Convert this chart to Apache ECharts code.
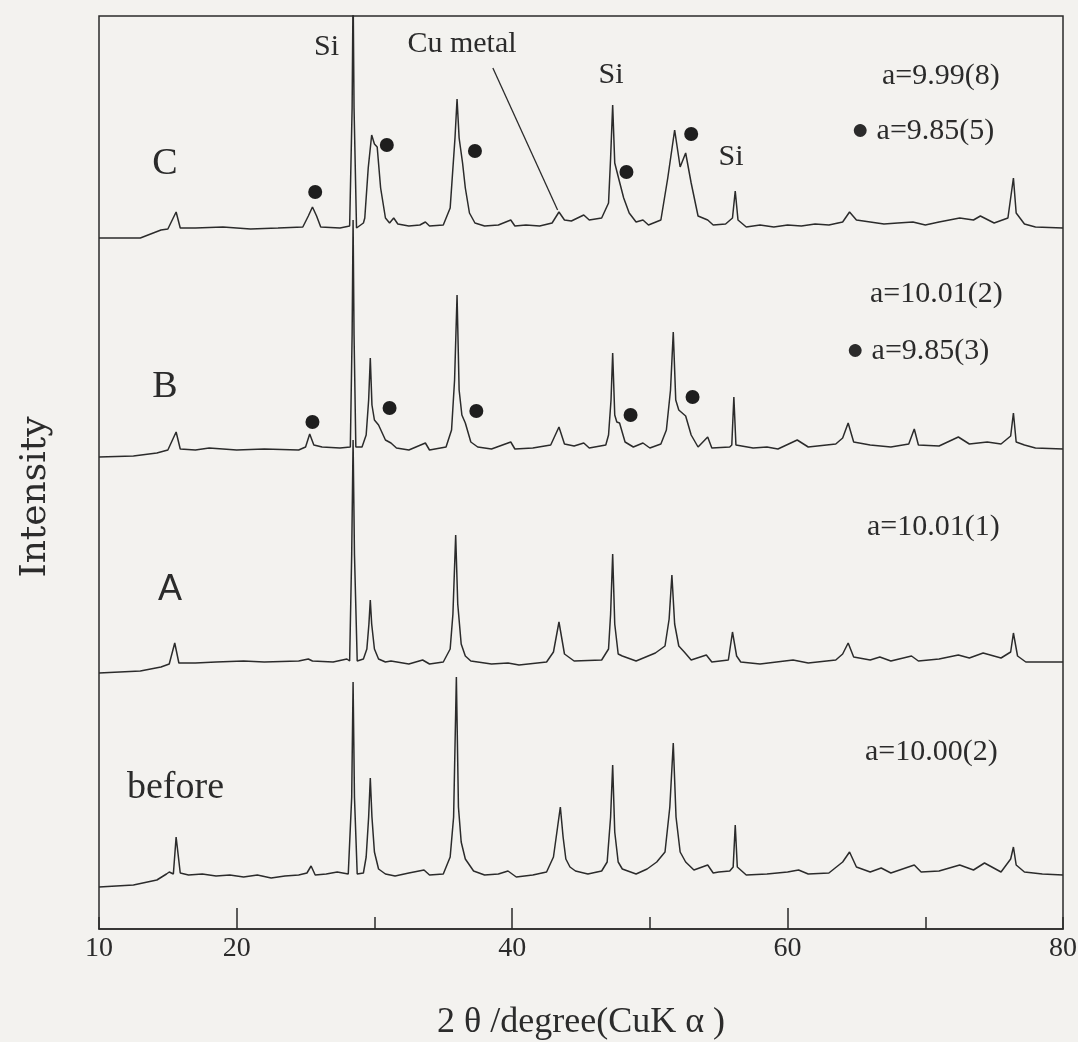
<!DOCTYPE html>
<html><head><meta charset="utf-8">
<script src="https://cdn.jsdelivr.net/npm/echarts@6/dist/echarts.min.js"></script>
<style>html,body{margin:0;padding:0;background:#f3f2ef}#c{width:1078px;height:1042px}</style>
</head><body><div id="c"></div><script>
// ---- data: [2theta (deg), intensity above own baseline (arb. units)] ----
const traceNames = ['before', 'A', 'B', 'C'];
const before = [[10,-10],[12.5,-8],[14.2,-3],[14.9,3],[15.1,5],[15.4,3],[15.6,40],[15.9,4],[16.5,2],[17.5,3],[18.5,1],[19.5,2],[20.5,0],[21.5,2],[22.5,-1],[23.5,1],[24.5,2],[25.1,4],[25.4,11],[25.7,2],[26.5,3],[27.3,5],[28.1,3],[28.35,80],[28.45,195],[28.55,80],[28.75,3],[29.2,4],[29.4,20],[29.58,60],[29.7,99],[29.82,60],[30.0,25],[30.3,8],[30.8,3],[31.5,1],[32.5,4],[33.6,7],[34.0,2],[35.0,3],[35.5,20],[35.75,60],[35.95,200],[36.1,70],[36.3,35],[36.6,18],[37.2,6],[38.0,2],[39.0,3],[39.7,6],[40.3,0],[41.5,2],[42.5,5],[43.0,20],[43.3,50],[43.5,70],[43.7,40],[43.9,18],[44.2,10],[44.6,6],[45.5,3],[46.5,6],[46.9,15],[47.15,60],[47.3,112],[47.45,45],[47.7,15],[48.0,8],[49.0,3],[49.8,8],[50.5,15],[51.1,25],[51.45,70],[51.7,134],[51.9,60],[52.2,25],[52.6,15],[53.2,7],[54.2,12],[54.6,4],[55.0,5],[55.8,6],[56.05,10],[56.2,52],[56.35,10],[57,2],[58.5,3],[60.0,5],[60.8,7],[61.5,3],[63.0,4],[64.0,15],[64.5,25],[65.0,10],[66.0,5],[66.8,9],[67.5,4],[69.2,12],[69.7,5],[71.0,6],[72.5,12],[73.5,7],[74.3,14],[75.5,5],[76.2,18],[76.4,30],[76.6,12],[77.2,5],[78.5,3],[80,2]];
const traceA = [[10,-9],[13,-7],[14.5,-3],[15.1,0],[15.5,21],[15.8,1],[17,1],[18.5,2],[20.5,3],[22,2],[24.5,3],[25.2,5],[25.5,3],[27.0,2],[28.0,5],[28.2,3],[28.35,110],[28.45,224],[28.55,110],[28.75,3],[29.2,5],[29.45,15],[29.6,40],[29.7,64],[29.8,40],[30.0,15],[30.3,5],[30.8,2],[31.2,3],[32.5,0],[33.5,4],[34.0,0],[35.0,2],[35.5,15],[35.7,50],[35.9,129],[36.05,60],[36.3,20],[36.6,8],[37,3],[38.5,0],[39.7,1],[40.5,-1],[42.5,2],[43.0,12],[43.4,42],[43.8,10],[44.5,3],[46.5,4],[47.0,15],[47.15,50],[47.3,110],[47.45,40],[47.7,10],[48.0,8],[49.0,3],[50.4,11],[51.1,18],[51.4,45],[51.6,89],[51.8,40],[52.1,18],[52.5,12],[53.0,4],[54.1,9],[54.5,2],[55.7,4],[56.0,32],[56.3,8],[56.6,2],[58,0],[60.4,4],[61.5,1],[63.5,4],[64.0,10],[64.4,21],[64.8,7],[66.0,4],[66.7,7],[67.5,3],[69.0,8],[69.5,3],[71.0,5],[72.4,9],[73.2,6],[74.2,11],[75.5,6],[76.2,12],[76.4,31],[76.7,8],[77.3,2],[80,2]];
const traceB = [[10,-7],[12.5,-6],[14.2,-3],[15.0,0],[15.6,18],[15.9,1],[17,0],[18,2],[20,0],[22,1],[24.5,0],[25.0,3],[25.3,16],[25.6,5],[26.2,3],[27.5,2],[28.25,3],[28.38,115],[28.45,230],[28.52,115],[28.65,3],[29.1,3],[29.4,15],[29.58,50],[29.7,92],[29.82,45],[30.0,30],[30.3,25],[30.8,10],[31.2,7],[31.6,2],[32.5,0],[33.7,7],[34.0,0],[35.2,3],[35.6,20],[35.82,70],[36.0,155],[36.15,60],[36.35,35],[36.6,27],[37.0,8],[37.5,3],[38.5,1],[39.9,8],[40.2,1],[41.5,2],[42.8,5],[43.4,23],[43.8,6],[44.5,4],[45.2,7],[45.6,2],[46.8,5],[47.0,15],[47.18,50],[47.3,97],[47.45,35],[47.6,28],[47.8,27],[48.2,8],[48.8,3],[49.5,7],[50.0,2],[50.8,6],[51.2,20],[51.5,60],[51.7,118],[51.88,50],[52.1,40],[52.6,34],[53.0,15],[53.5,3],[54.2,13],[54.5,2],[55.8,3],[55.95,5],[56.1,53],[56.25,5],[57.5,2],[58.5,3],[59.3,1],[60.7,10],[61.5,3],[63.5,6],[64.0,12],[64.4,27],[64.8,8],[66,5],[67.5,3],[68.8,6],[69.2,21],[69.5,5],[71,4],[72.4,13],[73.2,6],[74.5,8],[75.5,6],[76.2,14],[76.4,37],[76.6,8],[77.2,5],[78,2],[80,1]];
const traceC = [[10,-10],[13.0,-10],[14.5,-2],[15.0,-1],[15.6,16],[15.9,0],[17,0],[19,1],[21,-1],[23,0],[24.8,1],[25.2,12],[25.5,21],[25.8,12],[26.1,1],[27.5,0],[28.2,2],[28.38,120],[28.45,240],[28.52,120],[28.7,0],[29.2,5],[29.3,10],[29.55,60],[29.8,93],[30.0,84],[30.2,81],[30.45,40],[30.8,10],[31.1,5],[31.4,10],[31.7,4],[32.5,2],[33.3,3],[33.7,6],[34.0,2],[35.0,3],[35.5,20],[35.85,90],[36.0,129],[36.15,90],[36.4,65],[36.6,40],[36.9,15],[37.3,5],[38.0,2],[39.0,3],[39.9,8],[40.2,2],[41,3],[42,2],[42.9,5],[43.4,16],[43.8,8],[44.3,7],[45.2,13],[45.6,8],[46.5,10],[47.0,25],[47.15,70],[47.3,123],[47.45,65],[47.8,46],[48.1,30],[48.5,15],[49.0,6],[49.5,8],[49.9,3],[50.8,8],[51.3,50],[51.8,98],[52.2,61],[52.6,75],[53.0,45],[53.5,12],[54.2,8],[54.6,3],[55.5,4],[56.0,10],[56.2,37],[56.4,8],[57,1],[58,3],[59,1],[60,3],[61,2],[62,4],[63,3],[64.0,6],[64.5,16],[65.0,8],[66,6],[67,4],[68,5],[69.1,6],[70,3],[71,6],[72.5,10],[73.5,8],[74.0,12],[75.0,5],[76.0,10],[76.4,50],[76.6,15],[77.2,4],[78,1],[80,0]];
// phase markers (●), [2theta, height above own baseline]
const dotsB = [[25.5,28],[31.1,42],[37.4,39],[48.6,35],[53.1,53]];
const dotsC = [[25.7,36],[30.9,83],[37.3,77],[48.3,56],[53.0,94]];
// Cu metal pointer on trace C: [2theta, height]
const cuPointer = [[38.6,160],[43.3,18]];
const xTickValues = [10,20,30,40,50,60,70,80];
const xLabelValues = [10,20,40,60,80];
const xMajorTicks = [20,40,60];
const latticeC = ['a=9.99(8)', '● a=9.85(5)'];
const latticeB = ['a=10.01(2)', '● a=9.85(3)'];
const latticeA = ['a=10.01(1)'];
const latticeBefore = ['a=10.00(2)'];

// ---- layout ----
const offsets = {before: 52, A: 265, B: 479, C: 701};
const INK = '#2b2b2b';
const FONT = 'Liberation Serif';
const shift = (arr, off) => arr.map(p => [p[0], p[1] + off]);

const traces = {before: before, A: traceA, B: traceB, C: traceC};
const series = traceNames.map(n => ({
  name: n, type: 'line', data: shift(traces[n], offsets[n]),
  showSymbol: false, smooth: false, clip: true,
  lineStyle: {color: INK, width: 1.5}, z: 3
}));
series[3].markLine = {
  silent: true, symbol: ['none','none'],
  lineStyle: {color: INK, width: 1.3, type: 'solid'}, label: {show: false},
  data: [[{coord: [cuPointer[0][0], cuPointer[0][1] + offsets.C]}, {coord: [cuPointer[1][0], cuPointer[1][1] + offsets.C]}]]
};
series.push({type: 'scatter', data: shift(dotsB, offsets.B), symbolSize: 14, itemStyle: {color: '#1e1e1e', opacity: 1}, z: 4});
series.push({type: 'scatter', data: shift(dotsC, offsets.C), symbolSize: 14, itemStyle: {color: '#1e1e1e', opacity: 1}, z: 4});

function txt(t, x, y, size, align, family) {
  return {type: 'text', x: x, y: y, z: 10, style: {text: t, fill: INK, font: size + 'px "' + (family || FONT) + '"', textAlign: align || 'left', textVerticalAlign: 'middle'}};
}
const yTitle = txt('Intensity', 36, 497, 36, 'center', 'DejaVu Serif');
yTitle.rotation = Math.PI / 2;
const graphics = [
  yTitle,
  txt('C', 165, 164, 38, 'center'),
  txt('B', 165, 387, 38, 'center'),
  txt('A', 170, 590, 36, 'center', 'Liberation Sans'),
  txt('before', 127, 788, 38, 'left'),
  txt('Si', 339, 47, 30, 'right'),
  txt('Cu metal', 462, 44, 30, 'center'),
  txt('Si', 611, 75, 30, 'center'),
  txt('Si', 731, 157, 30, 'center'),
  txt(latticeC[0], 882, 76, 30, 'left'),
  txt(latticeC[1], 851, 131, 30, 'left'),
  txt(latticeB[0], 870, 294, 30, 'left'),
  txt(latticeB[1], 846, 351, 30, 'left'),
  txt(latticeA[0], 867, 527, 30, 'left'),
  txt(latticeBefore[0], 865, 752, 30, 'left')
];

const chart = echarts.init(document.getElementById('c'), null, {renderer: 'canvas'});
chart.setOption({
  animation: false,
  backgroundColor: '#f3f2ef',
  grid: {left: 99, right: 15, top: 16, bottom: 113, show: true, containLabel: false, outerBoundsMode: 'none',
    borderColor: INK, borderWidth: 1.5, backgroundColor: 'transparent'},
  xAxis: [{
    type: 'value', min: 10, max: 80, interval: 10,
    name: '2 θ /degree(CuK α )', nameLocation: 'middle', nameGap: 76,
    nameTextStyle: {fontFamily: FONT, fontSize: 36, color: INK},
    axisLine: {show: true, lineStyle: {color: INK, width: 1.5}},
    axisTick: {show: true, inside: true, length: 12, lineStyle: {color: INK, width: 1.5}},
    axisLabel: {fontFamily: FONT, fontSize: 28, color: INK, margin: 6,
      formatter: v => xLabelValues.indexOf(v) >= 0 ? String(v) : ''},
    splitLine: {show: false}
  }, {
    type: 'value', min: 10, max: 80, position: 'bottom',
    axisLine: {show: false}, axisLabel: {show: false}, splitLine: {show: false},
    axisTick: {show: true, inside: true, length: 21, customValues: xMajorTicks, lineStyle: {color: INK, width: 1.5}}
  }],
  yAxis: {
    type: 'value', min: 0, max: 913,
    axisLine: {show: false}, axisTick: {show: false}, axisLabel: {show: false}, splitLine: {show: false}
  },
  series: series,
  graphic: graphics
});
</script></body></html>
